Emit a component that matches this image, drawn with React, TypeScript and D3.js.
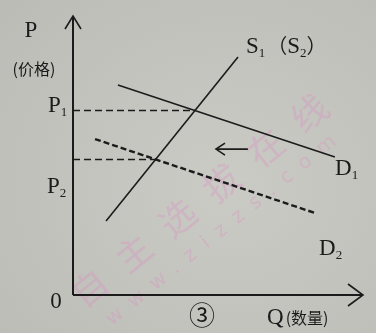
import * as d3 from "d3";

// supply / demand lines, in abstract units (quantity, price)
const supplyS = [
  { q: 1.14, p: 2.64 },
  { q: 5.69, p: 8.5 },
];
const demandD1 = [
  { q: 1.55, p: 7.5 },
  { q: 9.03, p: 4.93 },
];
const demandD2 = [
  { q: 0.76, p: 5.57 },
  { q: 8.34, p: 2.93 },
];
// leftward shift arrow
const shiftArrow = [
  { q: 6.03, p: 5.21 },
  { q: 4.93, p: 5.21 },
];
const watermarkChars = ["自", "主", "选", "拔", "在", "线"];
const watermarkUrl = "www.zizzs.com";

const W = 376;
const H = 333;

const x = d3.scaleLinear().domain([0, 10]).range([73, 363]);
const y = d3.scaleLinear().domain([0, 10]).range([295, 15]);

const line = d3
  .line<{ q: number; p: number }>()
  .x((d) => x(d.q))
  .y((d) => y(d.p));

// crossing point of two straight segments
const cross = (a: typeof supplyS, b: typeof supplyS) => {
  const m1 = (a[1].p - a[0].p) / (a[1].q - a[0].q);
  const m2 = (b[1].p - b[0].p) / (b[1].q - b[0].q);
  const q = (b[0].p - a[0].p + m1 * a[0].q - m2 * b[0].q) / (m1 - m2);
  return { q, p: a[0].p + m1 * (q - a[0].q) };
};

const e1 = cross(supplyS, demandD1);
const e2 = cross(supplyS, demandD2);

const serif = "'Liberation Serif', 'DejaVu Serif', serif";
const cjk = "'Noto Sans CJK SC', sans-serif";
const ink = "#1b1b1b";

const Sub = ({ t }: { t: string }) => (
  <tspan fontSize={13} dy={4}>
    {t}
  </tspan>
);

export default function App() {
  return (
    <svg width={W} height={H} style={{ position: "fixed", left: 0, top: 0 }}>
      <defs>
        <radialGradient id="paper" cx="0.6" cy="0.55" r="0.8">
          <stop offset="0" stopColor="#cbcbc6" />
          <stop offset="1" stopColor="#bcbcb6" />
        </radialGradient>
      </defs>
      <rect width={W} height={H} fill="url(#paper)" />

      {/* watermark */}
      <g fill="#d98cbf" opacity={0.32} fontFamily={cjk}>
        {watermarkChars.map((c, i) => (
          <text
            key={i}
            fontSize={36}
            textAnchor="middle"
            dominantBaseline="central"
            transform={`translate(${88 + i * 44},${286 - i * 35}) rotate(-39)`}
          >
            {c}
          </text>
        ))}
        <text
          fontSize={20}
          fontFamily="'DejaVu Sans', sans-serif"
          transform="translate(112,326) rotate(-39)"
          textLength={290}
          lengthAdjust="spacing"
        >
          {watermarkUrl}
        </text>
      </g>

      {/* axes */}
      <g stroke={ink} strokeWidth={2} fill="none">
        <line x1={x(0)} y1={y(0)} x2={x(0)} y2={y(10) + 1} />
        <line x1={x(0)} y1={y(0)} x2={x(10) - 1} y2={y(0)} />
        <path
          d={`M${x(0) - 8},${y(10) + 14}L${x(0)},${y(10) + 1}L${x(0) + 8},${y(10) + 14}`}
          strokeWidth={1.6}
        />
        <path
          d={`M${x(10) - 15},${y(0) - 11}L${x(10)},${y(0)}L${x(10) - 15},${y(0) + 11}`}
          strokeWidth={1.6}
        />
      </g>

      {/* price guides */}
      <g stroke={ink} strokeWidth={1.5} strokeDasharray="7 4">
        <line x1={x(0)} y1={y(e1.p)} x2={x(e1.q)} y2={y(e1.p)} />
        <line x1={x(0)} y1={y(e2.p)} x2={x(e2.q)} y2={y(e2.p)} />
      </g>

      {/* curves */}
      <g fill="none" stroke={ink}>
        <path d={line(supplyS)!} strokeWidth={1.6} />
        <path d={line(demandD1)!} strokeWidth={1.6} />
        <path d={line(demandD2)!} strokeWidth={2.4} strokeDasharray="6 3" />
        <path d={line(shiftArrow)!} strokeWidth={1.6} />
        <path
          d={`M${x(shiftArrow[1].q) + 9},${y(shiftArrow[1].p) - 6}L${x(shiftArrow[1].q)},${y(
            shiftArrow[1].p
          )}L${x(shiftArrow[1].q) + 9},${y(shiftArrow[1].p) + 6}`}
          strokeWidth={1.6}
        />
      </g>

      {/* labels */}
      <g fill={ink} fontFamily={serif} fontSize={23}>
        <text x={31} y={37} textAnchor="middle">
          P
        </text>
        <text x={34} y={75} textAnchor="middle" fontFamily={cjk} fontSize={16}>
          (价格)
        </text>
        <text x={48} y={y(e1.p) + 1}>
          P<Sub t="1" />
        </text>
        <text x={47} y={193}>
          P<Sub t="2" />
        </text>
        <text x={56} y={308} textAnchor="middle">
          0
        </text>
        <text x={246} y={53}>
          S<Sub t="1" />
          <tspan dy={-4} fontFamily={cjk} fontSize={20} dx={2}>
            （
          </tspan>
          S<Sub t="2" />
          <tspan dy={-4} fontFamily={cjk} fontSize={20}>
            ）
          </tspan>
        </text>
        <text x={335} y={175}>
          D<Sub t="1" />
        </text>
        <text x={319} y={255}>
          D<Sub t="2" />
        </text>
        <text x={202} y={325} textAnchor="middle" fontFamily={cjk} fontSize={26}>
          ③
        </text>
        <text x={267} y={324}>
          Q
          <tspan fontFamily={cjk} fontSize={16} dx={2}>
            (数量)
          </tspan>
        </text>
      </g>
    </svg>
  );
}
